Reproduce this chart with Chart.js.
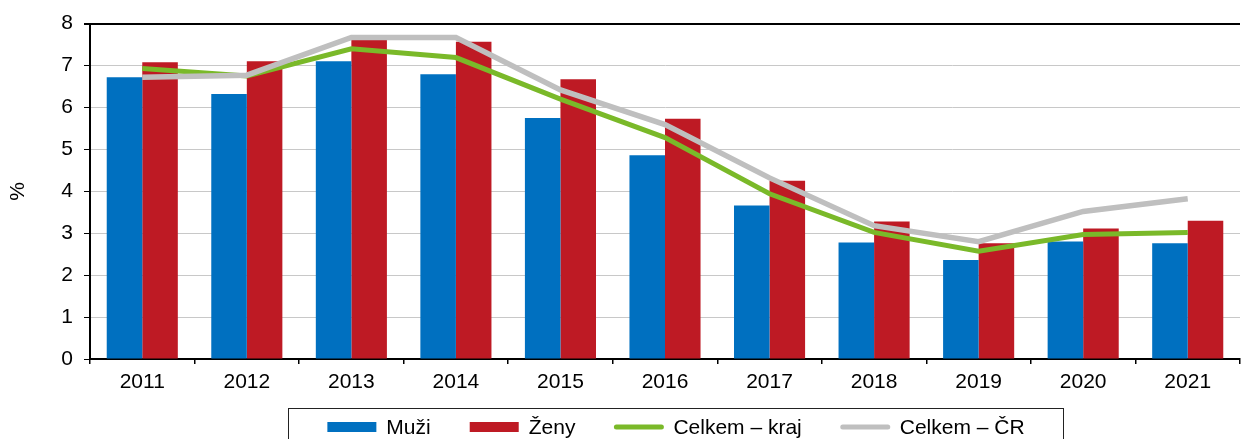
<!DOCTYPE html>
<html>
<head>
<meta charset="utf-8">
<script src="https://cdn.jsdelivr.net/npm/chart.js@4"></script>
<style>
  html, body { margin: 0; padding: 0; background: #fff; }
  #wrap { width: 1242px; height: 439px; position: relative; }
</style>
</head>
<body>
<div id="wrap"><canvas id="chart"></canvas></div>
<script>
// Data
const years = ['2011', '2012', '2013', '2014', '2015', '2016', '2017', '2018', '2019', '2020', '2021'];
const muzi = [6.72, 6.32, 7.10, 6.79, 5.75, 4.86, 3.66, 2.78, 2.36, 2.80, 2.76];
const zeny = [7.08, 7.10, 7.64, 7.57, 6.67, 5.73, 4.25, 3.28, 2.76, 3.11, 3.30];
const celkemKraj = [6.93, 6.75, 7.40, 7.19, 6.20, 5.28, 3.94, 3.02, 2.57, 2.97, 3.02];
const celkemCR = [6.72, 6.77, 7.67, 7.67, 6.42, 5.59, 4.32, 3.18, 2.80, 3.52, 3.82];

const FONT = 'Liberation Sans, Arial, sans-serif';

// Legenda v rámečku pod grafem
const boxedLegend = {
    id: 'boxedLegend',
    afterDraw(chart) {
        const ctx = chart.ctx;
        const items = chart.data.datasets.map(ds => ({
            text: ds.label,
            color: ds.type === 'line' ? ds.borderColor : ds.backgroundColor,
            line: ds.type === 'line'
        }));
        const swatch = 49, gap = 10, spacing = 39, pad = 39;
        ctx.save();
        ctx.font = '21px ' + FONT;
        let total = 0;
        items.forEach((it, i) => {
            it.w = ctx.measureText(it.text).width;
            total += swatch + gap + it.w + (i ? spacing : 0);
        });
        const cx = 676;
        const top = 408, midY = 427;
        const left = cx - total / 2 - pad;
        ctx.strokeStyle = '#222';
        ctx.lineWidth = 1;
        ctx.strokeRect(Math.round(left) + 0.5, top + 0.5, Math.round(total + 2 * pad), 60);
        let x = cx - total / 2;
        ctx.textBaseline = 'middle';
        ctx.fillStyle = '#000';
        items.forEach(it => {
            if (it.line) {
                ctx.strokeStyle = it.color;
                ctx.lineWidth = 5;
                ctx.lineCap = 'round';
                ctx.beginPath();
                ctx.moveTo(x + 2, midY);
                ctx.lineTo(x + swatch - 2, midY);
                ctx.stroke();
            } else {
                ctx.fillStyle = it.color;
                ctx.fillRect(x, midY - 5, swatch, 10);
            }
            ctx.fillStyle = '#000';
            ctx.fillText(it.text, x + swatch + gap, midY + 1);
            x += swatch + gap + it.w + spacing;
        });
        ctx.restore();
    }
};

new Chart(document.getElementById('chart'), {
    type: 'bar',
    data: {
        labels: years,
        datasets: [
            {
                label: 'Muži',
                data: muzi,
                backgroundColor: '#0070C0',
                order: 2
            },
            {
                label: 'Ženy',
                data: zeny,
                backgroundColor: '#BE1A24',
                order: 2
            },
            {
                type: 'line',
                label: 'Celkem – kraj',
                data: celkemKraj,
                borderColor: '#7AB929',
                borderWidth: 5,
                pointRadius: 0,
                tension: 0,
                order: 1
            },
            {
                type: 'line',
                label: 'Celkem – ČR',
                data: celkemCR,
                borderColor: '#BFBFBF',
                borderWidth: 5.5,
                pointRadius: 0,
                tension: 0,
                order: 0
            }
        ]
    },
    options: {
        responsive: true,
        maintainAspectRatio: false,
        animation: false,
        layout: {
            padding: { top: 16, right: 2, bottom: 40, left: 0 }
        },
        datasets: {
            bar: {
                categoryPercentage: 0.68,
                barPercentage: 1
            }
        },
        plugins: {
            legend: { display: false },
            tooltip: { enabled: false }
        },
        scales: {
            x: {
                afterFit(scale) { scale.height = 40; },
                grid: {
                    drawOnChartArea: false,
                    offset: true,
                    color: '#000',
                    tickLength: 5,
                    lineWidth: 1.5
                },
                border: { color: '#000', width: 2 },
                ticks: {
                    color: '#000',
                    padding: 6,
                    font: { family: FONT, size: 21 }
                }
            },
            y: {
                min: 0,
                max: 8,
                afterFit(scale) { scale.width = 90; },
                ticks: {
                    stepSize: 1,
                    color: '#000',
                    padding: 11,
                    font: { family: FONT, size: 21 }
                },
                grid: {
                    color: ctx => ctx.tick && ctx.tick.value === 8 ? '#000' : '#C8C8C8',
                    lineWidth: ctx => ctx.tick && ctx.tick.value === 8 ? 2 : 1,
                    tickColor: '#000',
                    tickLength: 6
                },
                border: { color: '#000', width: 2 },
                title: {
                    display: true,
                    text: '%',
                    color: '#000',
                    padding: { top: 6, bottom: 0 },
                    font: { family: FONT, size: 21 }
                }
            }
        }
    },
    plugins: [boxedLegend]
});
</script>
</body>
</html>
